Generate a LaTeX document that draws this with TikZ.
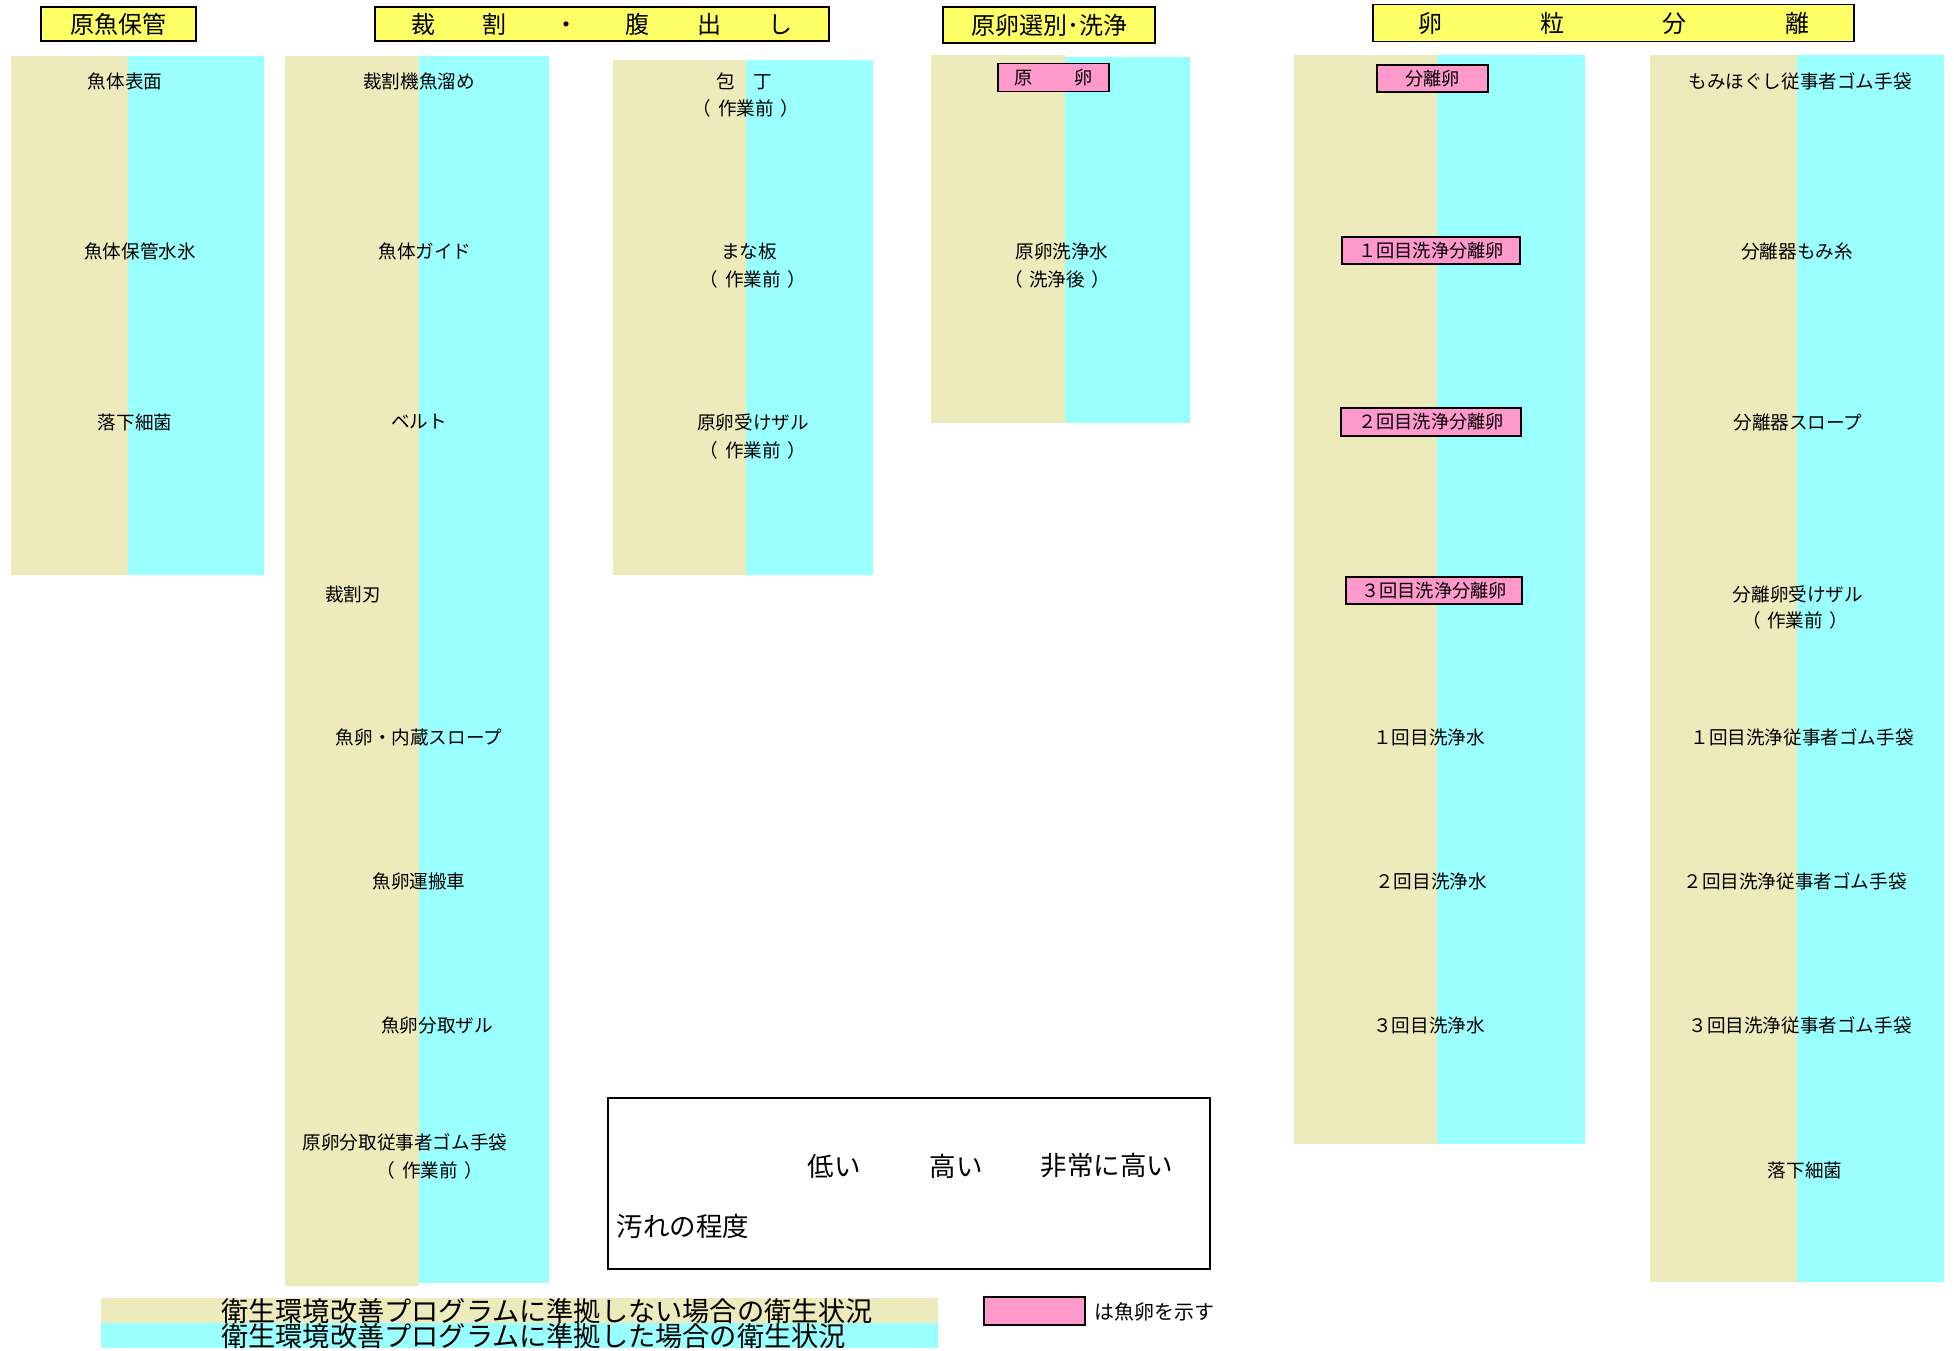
\documentclass[tikz,border=0pt]{standalone}
\usepackage{fontspec}
\setmainfont{Noto Sans CJK JP}
\definecolor{dirty}{HTML}{EDEBBB}
\definecolor{clean}{HTML}{99FFFF}
\definecolor{eggpink}{HTML}{FF99CC}
\definecolor{hdryellow}{HTML}{FFFF66}
\tikzset{
  hdr/.style={fill=hdryellow, draw=black, line width=1.5pt, inner sep=0pt, font=\fontsize{24}{28}\selectfont},
  lbl/.style={inner sep=0pt, align=center, font=\fontsize{18.6}{27}\selectfont},
  eggbox/.style={fill=eggpink, draw=black, line width=1.3pt, inner sep=0pt, font=\fontsize{18.2}{22}\selectfont},
  lgd/.style={inner sep=0pt, font=\fontsize{26.5}{30}\selectfont},
  band/.style={inner sep=0pt, font=\fontsize{27.2}{30}\selectfont},
}
\newcommand{\panel}[5]{% x0, xsplit, x1, y0, y1
  \fill[dirty] (#1,#4) rectangle (#2,#5);
  \fill[clean] (#2,#4) rectangle (#3,#5);
}
\newcommand{\bef}{（\hspace{0.35em}作業前\hspace{0.35em}）}
\begin{document}
\begin{tikzpicture}[x=1pt,y=-1pt]
\useasboundingbox (0,0) rectangle (1954,1350);

% ---------- headers ----------
\node[hdr, minimum width=155, minimum height=34] (h1) at (118.5,24) {原魚保管};
\node[hdr, minimum width=454, minimum height=34] (h2) at (602,24) {\makebox[381pt]{裁\hfill 割\hfill ・\hfill 腹\hfill 出\hfill し}};
\node[hdr, minimum width=212, minimum height=36] (h3) at (1049,25) {原卵選別･洗浄};
\node[hdr, minimum width=481, minimum height=37] (h4) at (1613.5,23) {\makebox[391pt]{卵\hfill 粒\hfill 分\hfill 離}};

% ---------- panels ----------
\panel{11}{128}{264}{56}{575}
\fill[dirty] (285,56) rectangle (419,1286);
\fill[clean] (419,56) rectangle (549,1283);
\panel{613}{746}{873}{60}{575}
\fill[dirty] (931,55) rectangle (1065,423);
\fill[clean] (1065,57) rectangle (1190,423);
\panel{1294}{1437}{1585}{55}{1144}
\panel{1650}{1797}{1944}{55}{1282}

% ---------- panel A ----------
\node[lbl] (a1) at (125,81) {魚体表面};
\node[lbl] (a2) at (140,251) {魚体保管水氷};
\node[lbl] (a3) at (135,422) {落下細菌};

% ---------- panel B ----------
\node[lbl] (b1) at (419,81) {裁割機魚溜め};
\node[lbl] (b2) at (425,251) {魚体ガイド};
\node[lbl] (b3) at (419,422) {ベルト};
\node[lbl] (b4) at (353,594) {裁割刃};
\node[lbl] (b5) at (419,737) {魚卵・内蔵スロープ};
\node[lbl] (b6) at (419,881) {魚卵運搬車};
\node[lbl] (b7) at (437,1025) {魚卵分取ザル};
\node[lbl] (b8) at (405,1142) {原卵分取従事者ゴム手袋};
\node[lbl] (b8b) at (430,1170) {\bef};

% ---------- panel C ----------
\node[lbl] (c1) at (744,81) {包　丁};
\node[lbl] (c1b) at (746,108) {\bef};
\node[lbl] (c2) at (749,251) {まな板};
\node[lbl] (c2b) at (753,279) {\bef};
\node[lbl] (c3) at (753,422) {原卵受けザル};
\node[lbl] (c3b) at (753,450) {\bef};

% ---------- panel D ----------
\node[eggbox, minimum width=111, minimum height=28] (d0) at (1053.5,77.5) {原\hspace{2.3em}卵};
\node[lbl] (d1) at (1062,251) {原卵洗浄水};
\node[lbl] (d1b) at (1057,279) {（\hspace{0.35em}洗浄後\hspace{0.35em}）};

% ---------- panel E ----------
\node[eggbox, minimum width=111, minimum height=27] (e0) at (1432.5,78.5) {分離卵};
\node[eggbox, minimum width=178, minimum height=27] (e1) at (1431,250.5) {１回目洗浄分離卵};
\node[eggbox, minimum width=180, minimum height=28] (e2) at (1431,422) {２回目洗浄分離卵};
\node[eggbox, minimum width=176, minimum height=27] (e3) at (1434,590.5) {３回目洗浄分離卵};
\node[lbl] (e4) at (1429,737) {１回目洗浄水};
\node[lbl] (e5) at (1431,881) {２回目洗浄水};
\node[lbl] (e6) at (1429,1025) {３回目洗浄水};

% ---------- panel F ----------
\node[lbl] (f1) at (1800,81) {もみほぐし従事者ゴム手袋};
\node[lbl] (f2) at (1797,251) {分離器もみ糸};
\node[lbl] (f3) at (1798,422) {分離器スロープ};
\node[lbl] (f4) at (1798,594) {分離卵受けザル};
\node[lbl] (f4b) at (1795,620) {\bef};
\node[lbl] (f5) at (1802,737) {１回目洗浄従事者ゴム手袋};
\node[lbl] (f6) at (1795,881) {２回目洗浄従事者ゴム手袋};
\node[lbl] (f7) at (1800,1025) {３回目洗浄従事者ゴム手袋};
\node[lbl] (f8) at (1805,1170) {落下細菌};

% ---------- legend box ----------
\node[draw=black, line width=2.5pt, minimum width=602, minimum height=171, inner sep=0pt] (lg) at (909,1183.5) {};
\node[lgd] (l1) at (834,1166) {低い};
\node[lgd] (l2) at (956,1166) {高い};
\node[lgd] (l3) at (1107,1166) {非常に高い};
\node[lgd] (l4) at (683,1226) {汚れの程度};

% ---------- bottom bands ----------
\fill[dirty] (101,1298) rectangle (938,1323);
\fill[clean] (101,1323) rectangle (938,1348);
\node[band, anchor=west] (t1) at (221,1311) {衛生環境改善プログラムに準拠しない場合の衛生状況};
\node[band, anchor=west] (t2) at (221,1336) {衛生環境改善プログラムに準拠した場合の衛生状況};
\node[eggbox, minimum width=101, minimum height=28] (sw) at (1034.5,1311) {};
\node[inner sep=0pt, anchor=west, font=\fontsize{20}{24}\selectfont] (swt) at (1094,1312) {は魚卵を示す};
\end{tikzpicture}
\end{document}
